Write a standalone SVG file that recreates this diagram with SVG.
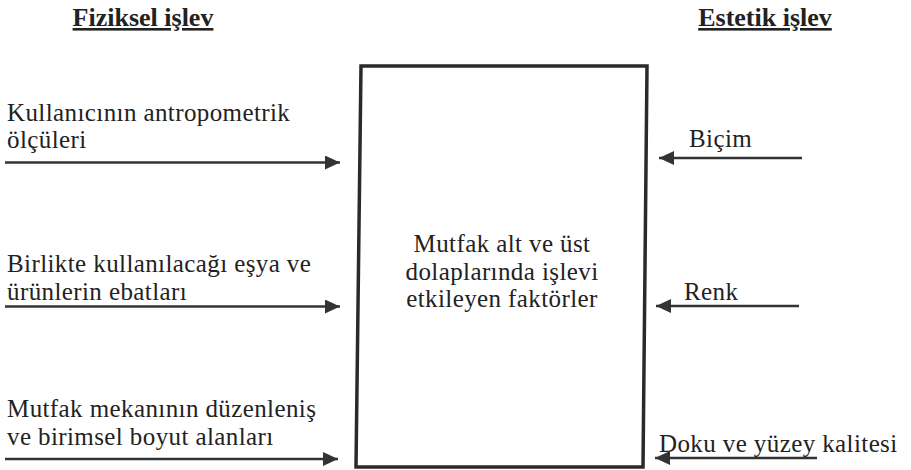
<svg xmlns="http://www.w3.org/2000/svg" width="911" height="470" viewBox="0 0 911 470">
<defs>
<marker id="ah" markerWidth="16" markerHeight="14" refX="15" refY="7" orient="auto" markerUnits="userSpaceOnUse">
<path d="M0,0 L15,7 L0,14 Z" fill="#333"/>
</marker>
<style>
text{font-family:"Liberation Serif","Times New Roman",serif;font-size:25px;letter-spacing:0.4px;fill:#222}
.h{font-size:26px;letter-spacing:0;font-weight:bold;text-decoration:underline}
.c{text-anchor:middle}
.arr{stroke:#333;stroke-width:2.5;fill:none;marker-end:url(#ah)}
.box{fill:#fff;stroke:#2a2a2a;stroke-width:3.5}
</style>
</defs>
<rect width="911" height="470" fill="#fff"/>
<g id="header-fiziksel"><text class="h" x="143" y="26" text-anchor="middle">Fiziksel işlev</text></g>
<g id="header-estetik"><text class="h" x="765" y="26" text-anchor="middle">Estetik işlev</text></g>
<g id="center">
<polygon class="box" points="361,66 647,66 643,467 356,467"/>
<text class="c" x="502" y="252">Mutfak alt ve üst</text>
<text class="c" x="502" y="280">dolaplarında işlevi</text>
<text class="c" x="502" y="307">etkileyen faktörler</text>
</g>
<g id="f1"><text x="7" y="121">Kullanıcının antropometrik</text><text x="7" y="148">ölçüleri</text></g>
<g id="f2"><text x="7" y="272">Birlikte kullanılacağı eşya ve</text><text x="7" y="300">ürünlerin ebatları</text></g>
<g id="f3"><text x="7" y="417">Mutfak mekanının düzenleniş</text><text x="7" y="445">ve birimsel boyut alanları</text></g>
<g id="e1"><text x="689" y="147">Biçim</text></g>
<g id="e2"><text x="684" y="300">Renk</text></g>
<g id="e3"><text x="659" y="452">Doku ve yüzey kalitesi</text></g>
<g id="connectors">
<line class="arr" x1="5" y1="162.5" x2="340" y2="162.5"/>
<line class="arr" x1="5" y1="306.5" x2="340" y2="306.5"/>
<line class="arr" x1="5" y1="459" x2="338" y2="459"/>
<line class="arr" x1="802" y1="158" x2="659" y2="158"/>
<line class="arr" x1="799" y1="306" x2="656" y2="306"/>
<line class="arr" x1="817" y1="458" x2="655" y2="458"/>
</g>
</svg>
